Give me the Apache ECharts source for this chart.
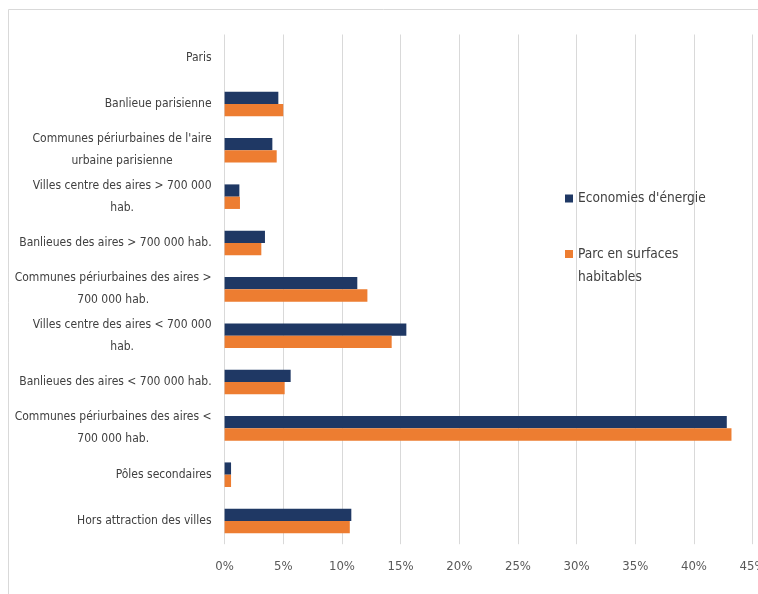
<!DOCTYPE html>
<html>
<head>
<meta charset="utf-8">
<script src="https://cdn.jsdelivr.net/npm/echarts@6/dist/echarts.min.js"></script>
<style>
html,body{margin:0;padding:0;background:#fff;}
#c{width:758px;height:594px;}
</style>
</head>
<body>
<div id="c"></div>
<script>
const categories = [
  "Paris",
  "Banlieue parisienne",
  "Communes périurbaines de l'aire\nurbaine parisienne",
  "Villes centre des aires > 700 000\nhab.",
  "Banlieues des aires > 700 000 hab.",
  "Communes périurbaines des aires >\n700 000 hab.",
  "Villes centre des aires < 700 000\nhab.",
  "Banlieues des aires < 700 000 hab.",
  "Communes périurbaines des aires <\n700 000 hab.",
  "Pôles secondaires",
  "Hors attraction des villes"
];
const seriesNames = ["Economies d'énergie", "Parc en surfaces habitables"];
const economies = [0, 4.58, 4.07, 1.26, 3.44, 11.31, 15.49, 5.63, 42.8, 0.55, 10.8];
const parc = [0, 5.0, 4.44, 1.31, 3.13, 12.17, 14.24, 5.12, 43.2, 0.55, 10.67];
const xTicks = {min: 0, max: 45, interval: 5};

const FONT = "'Liberation Sans Narrow', 'DejaVu Sans Condensed', 'Noto Sans', sans-serif";
const chart = echarts.init(document.getElementById('c'), null, {renderer: 'canvas'});
chart.setOption({
  backgroundColor: '#ffffff',
  animation: false,
  graphic: [{
    type: 'rect', left: 6, top: 7, silent: true,
    shape: {width: 800, height: 700},
    style: {fill: 'none', stroke: '#d9d9d9', lineWidth: 1}
  }],
  grid: {left: 224.6, right: 5.4, top: 34.5, bottom: 49.8, containLabel: false, outerBoundsMode: 'none'},
  legend: [{
    data: [seriesNames[0]], orient: 'vertical', left: 565, top: 187, padding: 0,
    itemWidth: 8, itemHeight: 8, icon: 'rect', itemGap: 5,
    textStyle: {fontFamily: FONT, fontSize: 13.6, color: '#404040', lineHeight: 23}
  }, {
    data: [seriesNames[1]], orient: 'vertical', left: 565, top: 242.5, padding: 0,
    itemWidth: 8, itemHeight: 31, itemGap: 5,
    icon: 'path://M0,0L8,0L8,8L0,8Z M0,31L8,31',
    formatter: function(n){ return 'Parc en surfaces\nhabitables'; },
    textStyle: {fontFamily: FONT, fontSize: 13.6, color: '#404040', lineHeight: 23}
  }],
  xAxis: {
    type: 'value', min: xTicks.min, max: xTicks.max, interval: xTicks.interval,
    axisLine: {show: false}, axisTick: {show: false},
    splitLine: {show: true, lineStyle: {color: '#d9d9d9', width: 1}},
    axisLabel: {formatter: '{value}%', margin: 16, fontFamily: FONT, fontSize: 13, color: '#595959'}
  },
  yAxis: {
    type: 'category', data: categories, inverse: true,
    axisLine: {show: false}, axisTick: {show: false},
    axisLabel: {
      margin: 13, fontFamily: FONT, fontSize: 12, color: '#404040', align: 'right',
      formatter: function(v){ return v.split('\n').map(s => '{c|' + s + '}').join('\n'); },
      rich: {c: {align: 'center', fontFamily: FONT, fontSize: 12, color: '#404040', lineHeight: 22}}
    }
  },
  series: [{
    name: seriesNames[0], type: 'bar', data: economies,
    barGap: '0%', barCategoryGap: '47%',
    itemStyle: {color: '#1f3864'}
  }, {
    name: seriesNames[1], type: 'bar', data: parc,
    barGap: '0%', barCategoryGap: '47%',
    itemStyle: {color: '#ed7d31'}
  }]
});
</script>
</body>
</html>
